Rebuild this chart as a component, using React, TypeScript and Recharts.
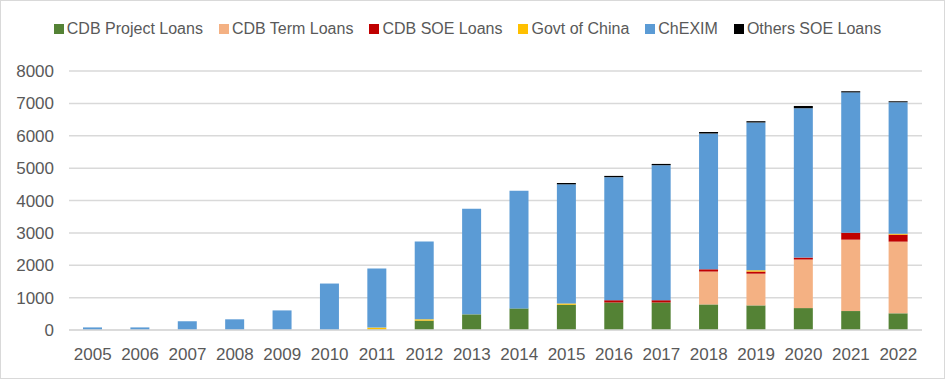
import React from "react";
import {
  BarChart,
  Bar,
  XAxis,
  YAxis,
  CartesianGrid,
  Legend,
} from "recharts";

// Chinese lending by source, 2005-2022
const years = [
  "2005", "2006", "2007", "2008", "2009", "2010", "2011", "2012", "2013",
  "2014", "2015", "2016", "2017", "2018", "2019", "2020", "2021", "2022",
];
const cdbProjectLoans = [0, 0, 0, 0, 0, 0, 20, 290, 483, 667, 780, 850, 850, 790, 760, 677, 585, 515];
const cdbTermLoans = [0, 0, 0, 0, 0, 0, 0, 0, 0, 0, 0, 0, 0, 1015, 980, 1500, 2205, 2215];
const cdbSoeLoans = [0, 0, 0, 0, 0, 0, 0, 0, 0, 0, 0, 70, 70, 70, 65, 60, 215, 215];
const govtOfChina = [0, 0, 0, 0, 0, 0, 55, 40, 0, 0, 40, 0, 0, 0, 40, 0, 0, 30];
const chexim = [80, 80, 270, 330, 605, 1435, 1825, 2400, 3262, 3633, 3680, 3800, 4170, 4195, 4565, 4613, 4335, 4060];
const othersSoeLoans = [0, 0, 0, 0, 0, 0, 0, 0, 0, 0, 40, 40, 40, 45, 40, 70, 35, 30];
const yTicks = [0, 1000, 2000, 3000, 4000, 5000, 6000, 7000, 8000];

const series = [
  { key: "cdbProject", name: "CDB Project Loans", color: "#548235", values: cdbProjectLoans },
  { key: "cdbTerm", name: "CDB Term Loans", color: "#F4B183", values: cdbTermLoans },
  { key: "cdbSoe", name: "CDB SOE Loans", color: "#C00000", values: cdbSoeLoans },
  { key: "govt", name: "Govt of China", color: "#FFC000", values: govtOfChina },
  { key: "chexim", name: "ChEXIM", color: "#5B9BD5", values: chexim },
  { key: "others", name: "Others SOE Loans", color: "#000000", values: othersSoeLoans },
];

const data = years.map((year, i) => {
  const row: Record<string, string | number> = { year };
  series.forEach((s) => {
    row[s.key] = s.values[i];
  });
  return row;
});

const FONT = "'Liberation Sans', Arial, sans-serif";
const TEXT = "#595959";

const LegendContent = () => (
  <div
    style={{
      display: "flex",
      justifyContent: "center",
      gap: 16,
      fontFamily: FONT,
      fontSize: 16,
      color: TEXT,
      whiteSpace: "nowrap",
    }}
  >
    {series.map((s) => (
      <div key={s.key} style={{ display: "flex", alignItems: "center" }}>
        <span
          style={{
            display: "inline-block",
            width: 10,
            height: 10,
            background: s.color,
            marginRight: 3,
          }}
        />
        <span>{s.name}</span>
      </div>
    ))}
  </div>
);

const App: React.FC = () => {
  return (
    <div
      style={{
        position: "absolute",
        left: 0,
        top: 0,
        width: 943,
        height: 377,
        border: "1px solid #D9D9D9",
        background: "#fff",
      }}
    >
      <BarChart
        width={943}
        height={377}
        data={data}
        margin={{ top: 46, right: 22, left: 12, bottom: 18 }}
        barSize={19}
      >
        <CartesianGrid stroke="#D9D9D9" strokeWidth={1.5} vertical={false} />
        <Legend
          verticalAlign="top"
          align="center"
          height={24}
          wrapperStyle={{ top: 19 }}
          content={<LegendContent />}
        />
        <XAxis
          dataKey="year"
          tickLine={false}
          axisLine={{ stroke: "#D9D9D9", strokeWidth: 1.5 }}
          tickMargin={12}
          height={30}
          tick={{ fill: TEXT, fontSize: 17, fontFamily: FONT }}
          interval={0}
        />
        <YAxis
          domain={[0, 8000]}
          ticks={yTicks}
          width={56}
          tickLine={false}
          axisLine={false}
          tickMargin={9}
          tick={{ fill: TEXT, fontSize: 17, fontFamily: FONT }}
        />
        {series.map((s) => (
          <Bar
            key={s.key}
            dataKey={s.key}
            name={s.name}
            stackId="loans"
            fill={s.color}
            isAnimationActive={false}
          />
        ))}
      </BarChart>
    </div>
  );
};

export default App;
